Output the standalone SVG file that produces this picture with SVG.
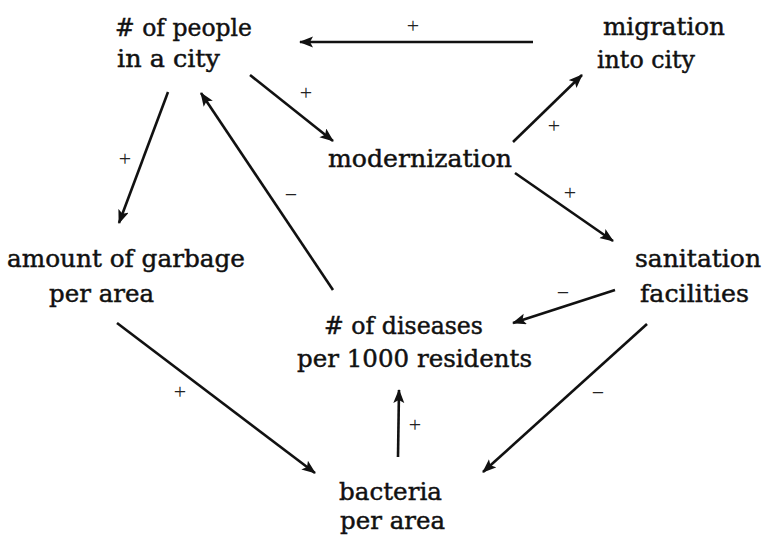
<svg xmlns="http://www.w3.org/2000/svg" width="763" height="536" viewBox="0 0 763 536">
<style>
.node text{font-family:"DejaVu Serif","Liberation Serif",serif;font-size:24px;fill:#111;stroke:#111;stroke-width:0.45;}
.edge{stroke:#111;stroke-width:2.6;fill:none;marker-end:url(#ah);}
.lbl{font-family:"Liberation Serif",serif;font-size:22px;fill:#222;text-anchor:middle;}
</style>
<defs>
<marker id="ah" markerUnits="userSpaceOnUse" markerWidth="16" markerHeight="12" refX="13" refY="5.5" orient="auto">
<path d="M0,0 L14,5.5 L0,11 L3,5.5 z" fill="#111"/>
</marker>
</defs>
<rect width="763" height="536" fill="#fff"/>
<g id="connectors">
<line class="edge" x1="533" y1="42" x2="300" y2="42"/>
<line class="edge" x1="250" y1="75" x2="333" y2="141"/>
<line class="edge" x1="168" y1="92" x2="119" y2="223"/>
<line class="edge" x1="333" y1="290" x2="201" y2="93"/>
<line class="edge" x1="513" y1="142" x2="582" y2="75"/>
<line class="edge" x1="515" y1="173" x2="613" y2="241"/>
<line class="edge" x1="615" y1="290" x2="513" y2="323"/>
<line class="edge" x1="647" y1="324" x2="483" y2="472"/>
<line class="edge" x1="117" y1="323" x2="315" y2="473"/>
<line class="edge" x1="398" y1="457" x2="399" y2="390"/>
<g id="edge-labels">
<text class="lbl" x="413" y="33">+</text>
<text class="lbl" x="306" y="100">+</text>
<text class="lbl" x="125" y="166">+</text>
<text class="lbl" x="291" y="202">−</text>
<text class="lbl" x="554" y="133">+</text>
<text class="lbl" x="570" y="200">+</text>
<text class="lbl" x="563" y="300">−</text>
<text class="lbl" x="598" y="400">−</text>
<text class="lbl" x="180" y="399">+</text>
<text class="lbl" x="415" y="432">+</text>
</g>
</g>
<g id="people" class="node">
<text x="115" y="36" textLength="137" lengthAdjust="spacingAndGlyphs"># of people</text>
<text x="117" y="67" textLength="103" lengthAdjust="spacingAndGlyphs">in a city</text>
</g>
<g id="migration" class="node">
<text x="603" y="35" textLength="122" lengthAdjust="spacingAndGlyphs">migration</text>
<text x="597" y="68" textLength="98" lengthAdjust="spacingAndGlyphs">into city</text>
</g>
<g id="modernization" class="node">
<text x="328" y="167" textLength="184" lengthAdjust="spacingAndGlyphs">modernization</text>
</g>
<g id="garbage" class="node">
<text x="7" y="267" textLength="238" lengthAdjust="spacingAndGlyphs">amount of garbage</text>
<text x="49" y="302" textLength="105" lengthAdjust="spacingAndGlyphs">per area</text>
</g>
<g id="sanitation" class="node">
<text x="635" y="267" textLength="126" lengthAdjust="spacingAndGlyphs">sanitation</text>
<text x="640" y="302" textLength="109" lengthAdjust="spacingAndGlyphs">facilities</text>
</g>
<g id="diseases" class="node">
<text x="324" y="334" textLength="159" lengthAdjust="spacingAndGlyphs"># of diseases</text>
<text x="297" y="367" textLength="235" lengthAdjust="spacingAndGlyphs">per 1000 residents</text>
</g>
<g id="bacteria" class="node">
<text x="339" y="500" textLength="103" lengthAdjust="spacingAndGlyphs">bacteria</text>
<text x="340" y="529" textLength="105" lengthAdjust="spacingAndGlyphs">per area</text>
</g>
</svg>
